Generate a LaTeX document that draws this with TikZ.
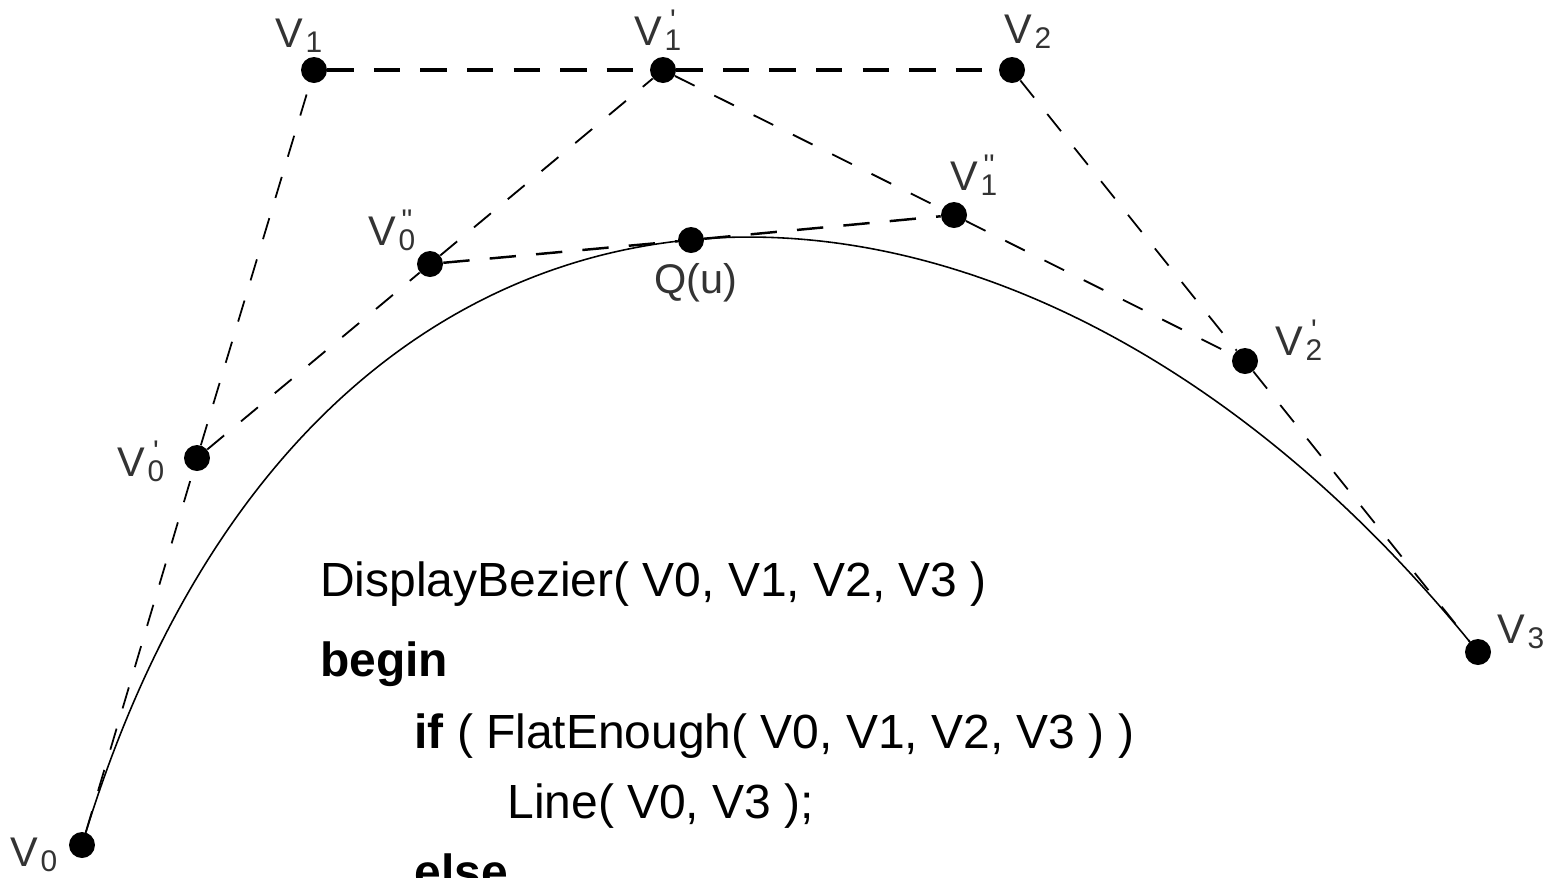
\documentclass[tikz,border=0pt]{standalone}
\usepackage{fontspec}
\usepackage{graphicx}
\setmainfont{Liberation Sans}
\newfontfamily\primefont[Mapping=]{Liberation Sans}
\newcommand{\lbl}[2]{\fontsize{23.6}{24}\selectfont V\kern1.5pt\rlap{\raisebox{-3pt}{\fontsize{17}{17}\selectfont #1}}\raisebox{8.5pt}{\makebox[9.5pt]{\fontsize{17}{17}\primefont #2}}}
\tikzset{
  x=0.02cm,y=-0.02cm,
  pt/.style={circle,fill=black,draw=none,minimum size=0.52cm,inner sep=0pt},
  lab/.style={inner sep=0pt,anchor=base west,text=black!80},
  code/.style={inner sep=0pt,anchor=base west,font=\fontsize{27.3}{28}\selectfont},
  dashA/.style={dash pattern=on 15pt off 11.5pt,line width=2pt},
  dashB/.style={dash pattern=on 12.5pt off 12.5pt,line width=1.05pt},
  dashC/.style={dash pattern=on 12.5pt off 12pt,line width=1pt},
  dashD/.style={dash pattern=on 15pt off 11.5pt,line width=1.4pt},
}
\begin{document}
\begin{tikzpicture}
\useasboundingbox (0,0) rectangle (1549,877);
\clip (0,0) rectangle (1549,877);
\fill[white] (0,0) rectangle (1549,877);
\node[pt] (v0) at (82,845) {};
\node[pt] (v1) at (314,70) {};
\node[pt] (v2) at (1012,70) {};
\node[pt] (v3) at (1478,652) {};
\node[pt] (a0) at (197,458) {};
\node[pt] (a1) at (663,70) {};
\node[pt] (a2) at (1245,361) {};
\node[pt] (b0) at (430,264) {};
\node[pt] (b1) at (954,215) {};
\node[pt] (q) at (691,240) {};
\draw[line width=0.9pt] (v0.center) .. controls (v1.center) and (v2.center) .. (v3.center);
\draw[dashC] (v0) -- (a0);
\draw[dashC] (a0) -- (v1);
\draw[dashA] (v1) -- (a1);
\draw[dashA] (a1) -- (v2);
\draw[dashC] (v2) -- (a2);
\draw[dashC] (a2) -- (v3);
\draw[dashB] (a0) -- (b0);
\draw[dashB] (b0) -- (a1);
\draw[dashB] (a1) -- (b1);
\draw[dashB] (b1) -- (a2);
\draw[dashD] (b0) -- (q);
\draw[dashD] (q) -- (b1);
\node[lab] (l0) at (10,866) {\lbl{0}{}};
\node[lab] (l1) at (275,47) {\lbl{1}{}};
\node[lab] (l2) at (1004,43) {\lbl{2}{}};
\node[lab] (l3) at (1497,643) {\lbl{3}{}};
\node[lab] (la0) at (117,476) {\lbl{0}{'}};
\node[lab] (la1) at (634,45) {\lbl{1}{'}};
\node[lab] (la2) at (1275,355) {\lbl{2}{'}};
\node[lab] (lb0) at (368,245) {\lbl{0}{''}};
\node[lab] (lb1) at (950,190) {\lbl{1}{''}};
\node[lab] (lq) at (654,293) {\fontsize{23.6}{24}\selectfont Q(u)};
\node[code] (c1) at (320,596) {DisplayBezier( V0, V1, V2, V3 )};
\node[code] (c2) at (320,676) {\bfseries begin};
\node[code] (c3) at (414,748) {\textbf{if} ( FlatEnough( V0, V1, V2, V3 ) )};
\node[code] (c4) at (507,818) {Line( V0, V3 );};
\node[code] (c5) at (414,888) {\bfseries else};
\end{tikzpicture}
\end{document}
